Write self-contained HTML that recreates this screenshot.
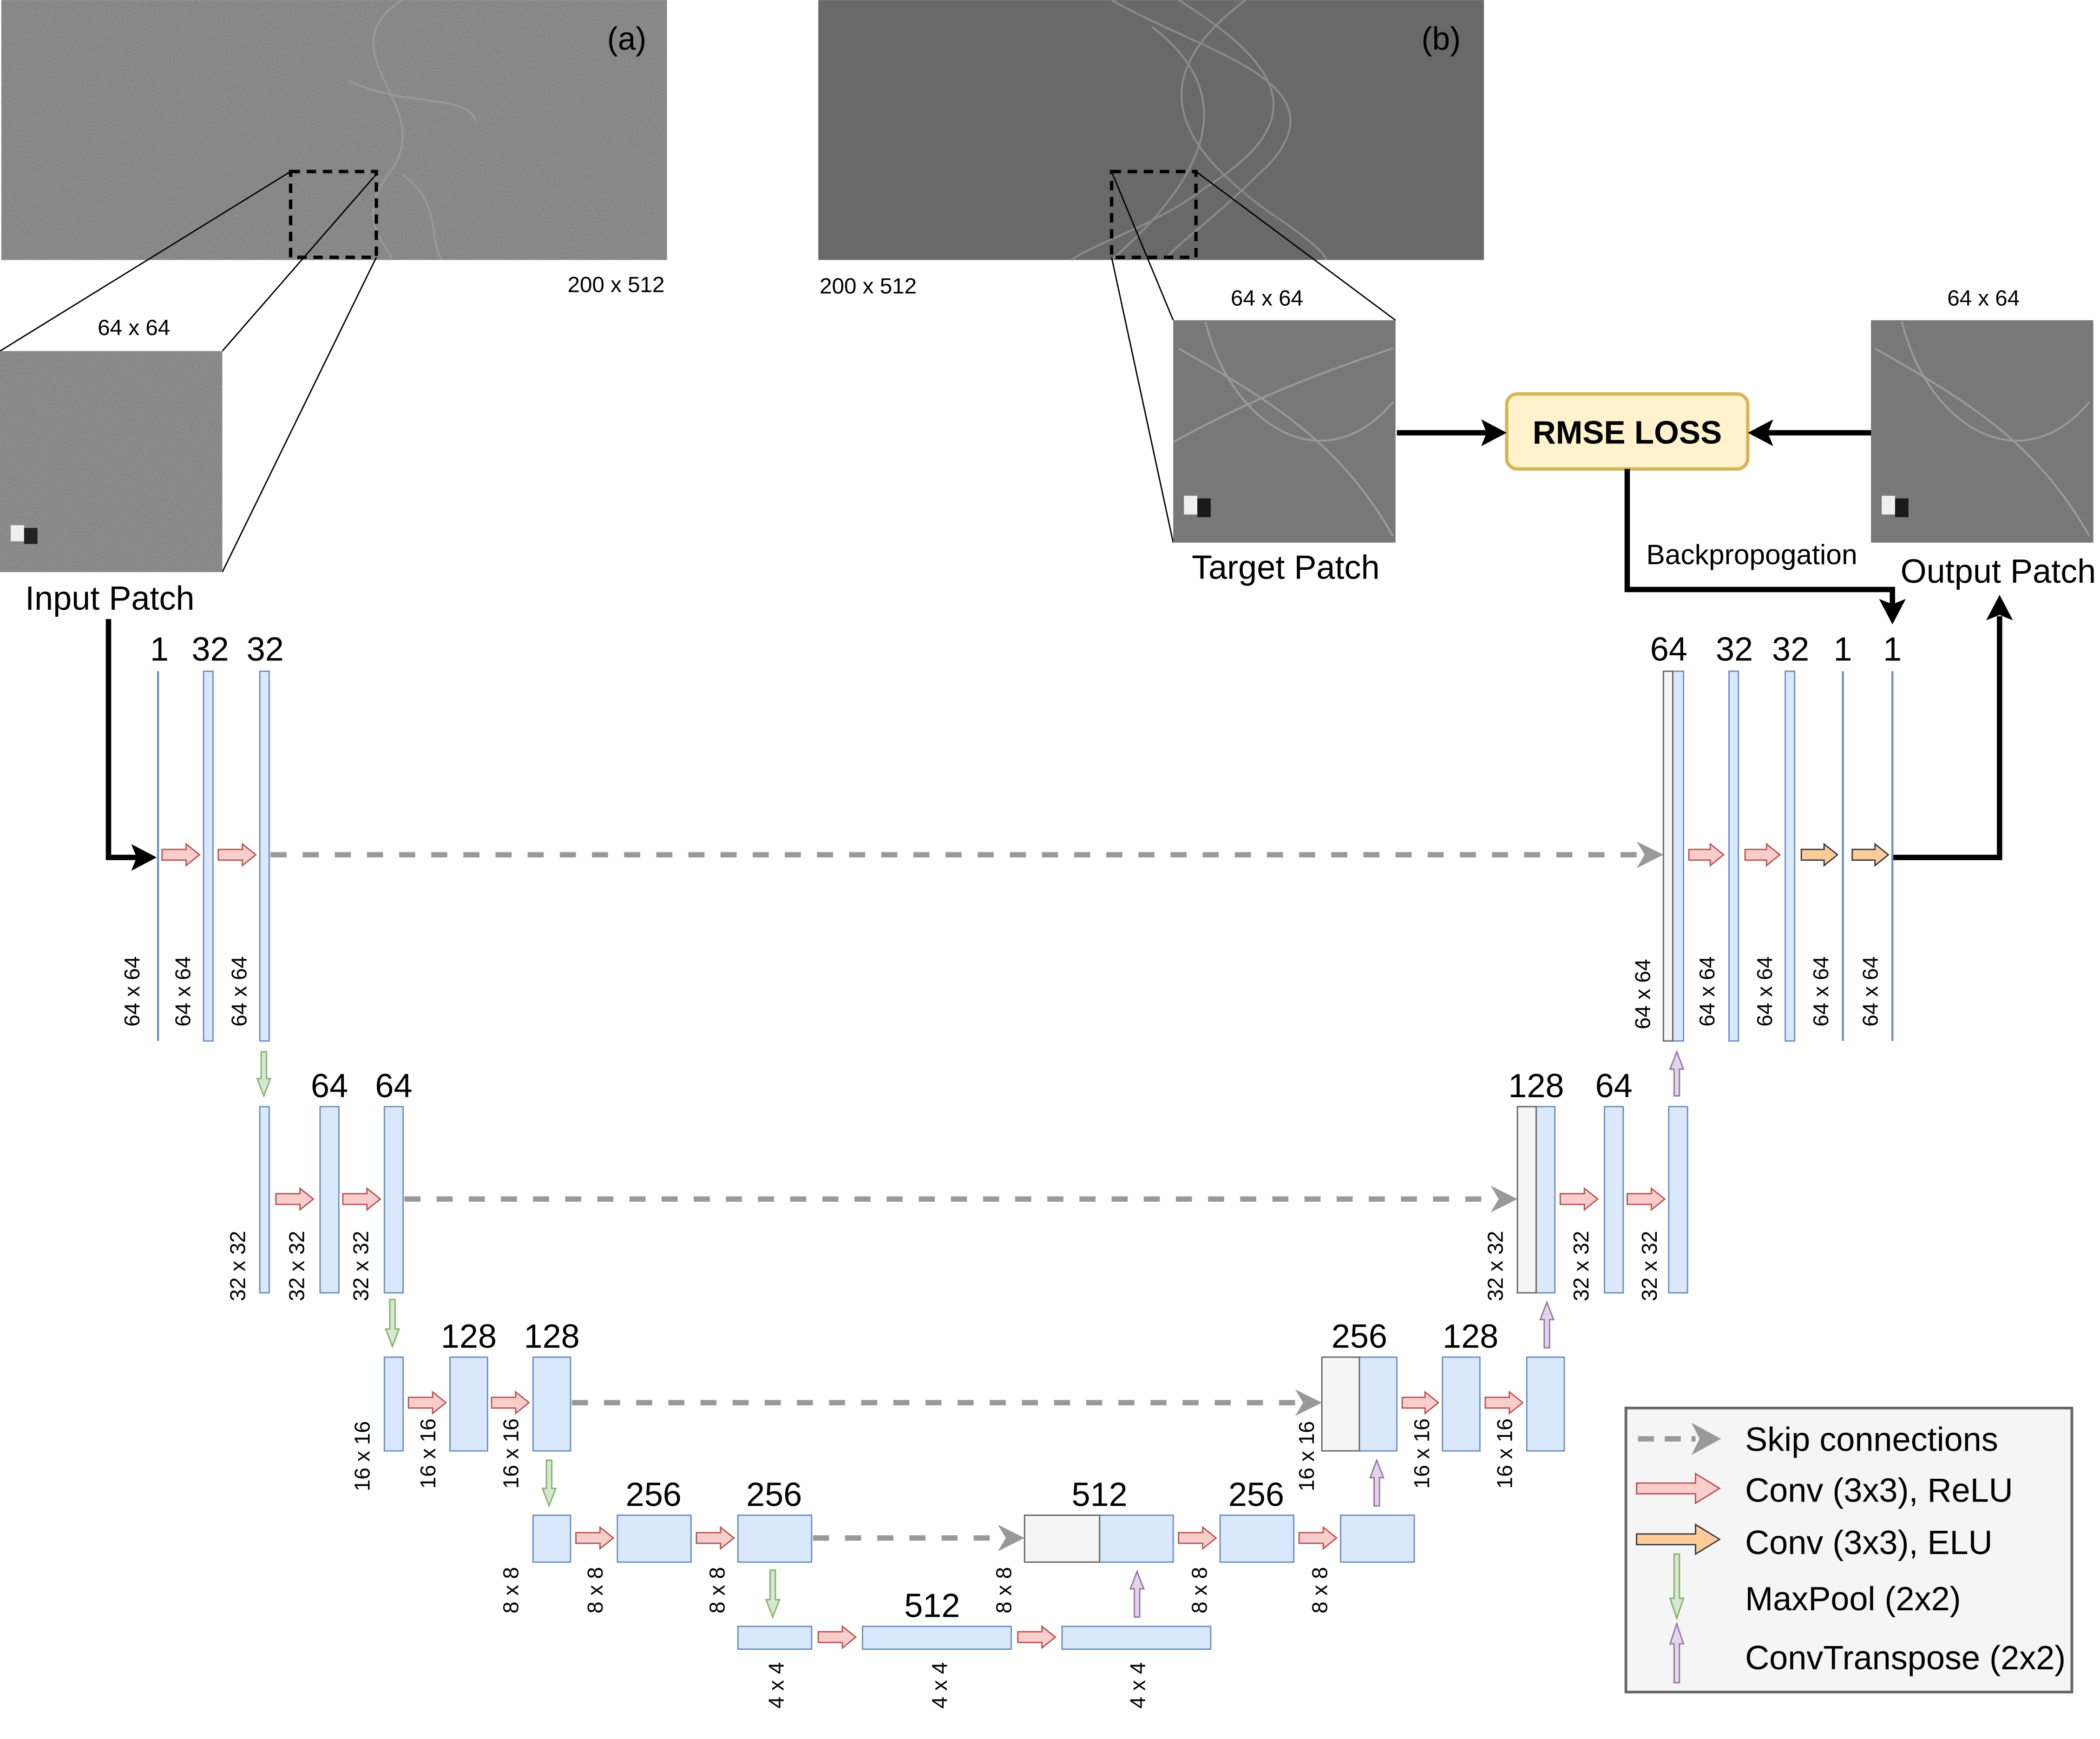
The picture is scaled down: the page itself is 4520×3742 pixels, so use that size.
<!DOCTYPE html>
<html><head><meta charset="utf-8"><style>
html,body{margin:0;padding:0;background:#fff;}
svg{display:block;}
text{font-family:"Liberation Sans",sans-serif;fill:#000;}
</style></head><body>
<svg width="4520" height="3742" viewBox="0 0 1568 1298" xmlns="http://www.w3.org/2000/svg">
<defs>
<filter id="nz" x="0" y="0" width="100%" height="100%">
<feTurbulence type="fractalNoise" baseFrequency="0.9" numOctaves="1" seed="3"/>
<feColorMatrix type="matrix" values="0 0 0 0 0.5  0 0 0 0 0.5  0 0 0 0 0.5  0 0 0 0.35 0"/>
</filter>
</defs>
<rect width="1568" height="1298" fill="#fff"/>
<rect x="1214" y="1051" width="333" height="212" fill="#f5f5f5" stroke="#666" stroke-width="2"/>

<!-- image (a) -->
<rect x="1" y="0" width="497" height="194" fill="#7d7d7d"/>
<rect x="1" y="0" width="497" height="194" filter="url(#nz)"/>
<g fill="none" stroke="#a0a0a0" stroke-width="1.5" opacity="0.7">
<path d="M300,0 C240,40 330,80 290,130 C260,170 300,190 290,194"/>
<path d="M260,60 C300,80 350,70 355,90"/>
<path d="M300,130 C330,150 320,180 330,194"/>
</g>
<text x="468" y="37" font-size="24" text-anchor="middle">(a)</text>
<text x="460" y="218" font-size="16.5" text-anchor="middle">200 x 512</text>
<rect x="217" y="128" width="64" height="64" fill="none" stroke="#000" stroke-width="2.5" stroke-dasharray="7 5"/>
<g stroke="#000" stroke-width="1">
<line x1="217" y1="128" x2="0" y2="262"/>
<line x1="281" y1="130" x2="166" y2="262"/>
<line x1="281" y1="192" x2="166" y2="427"/>
</g>
<text x="100" y="250" font-size="16.5" text-anchor="middle">64 x 64</text>
<rect x="0" y="262" width="166" height="165" fill="#7f7f7f"/>
<rect x="0" y="262" width="166" height="165" filter="url(#nz)"/>
<rect x="8" y="392" width="10" height="12" fill="#eee"/>
<rect x="18" y="394" width="10" height="12" fill="#222"/>
<text x="82" y="455" font-size="25" text-anchor="middle">Input Patch</text>

<!-- image (b) -->
<rect x="611" y="0" width="497" height="194" fill="#696969"/>
<g fill="none" stroke="#8a8a8a" stroke-width="1.5">
<path d="M830,0 C900,40 1000,60 950,120 C900,170 880,180 870,194"/>
<path d="M880,0 C960,50 980,90 900,140 C860,170 820,180 800,194"/>
<path d="M930,0 C850,60 880,110 950,160 C980,180 990,190 990,194"/>
<path d="M860,20 C940,80 880,150 830,194"/>
</g>
<text x="1076" y="37" font-size="24" text-anchor="middle">(b)</text>
<text x="612" y="219" font-size="16.5">200 x 512</text>
<rect x="830" y="128" width="63" height="64" fill="none" stroke="#000" stroke-width="2.5" stroke-dasharray="7 5"/>
<g stroke="#000" stroke-width="1">
<line x1="830" y1="128" x2="876" y2="239"/>
<line x1="830" y1="192" x2="876" y2="405"/>
<line x1="893" y1="128" x2="1042" y2="239"/>
</g>
<text x="946" y="228" font-size="16.5" text-anchor="middle">64 x 64</text>
<rect x="876" y="239" width="166" height="166" fill="#787878"/>
<g fill="none" stroke="#999" stroke-width="1.5"><path d="M880,260 C950,300 1000,330 1040,400"/><path d="M900,240 C920,320 990,360 1040,300"/><path d="M876,330 C930,300 980,280 1040,260"/></g>
<rect x="884" y="370" width="10" height="14" fill="#f0f0f0"/><rect x="894" y="372" width="10" height="14" fill="#1a1a1a"/>
<text x="960" y="432" font-size="25" text-anchor="middle">Target Patch</text>

<text x="1481" y="228" font-size="16.5" text-anchor="middle">64 x 64</text>
<rect x="1397" y="239" width="166" height="166" fill="#787878"/>
<g fill="none" stroke="#999" stroke-width="1.5"><path d="M1400,260 C1470,300 1520,330 1560,400"/><path d="M1420,240 C1440,320 1510,360 1560,300"/></g>
<rect x="1405" y="370" width="10" height="14" fill="#f0f0f0"/><rect x="1415" y="372" width="10" height="14" fill="#1a1a1a"/>
<text x="1492" y="435" font-size="25" text-anchor="middle">Output Patch</text>

<!-- RMSE -->
<rect x="1125" y="294" width="180" height="56" rx="8" fill="#fff2cc" stroke="#d6b656" stroke-width="2.5"/>
<text x="1215" y="331" font-size="24" font-weight="bold" text-anchor="middle">RMSE LOSS</text>
<g stroke="#000" stroke-width="4" fill="none">
<line x1="1043" y1="323" x2="1110" y2="323"/>
<line x1="1397" y1="323" x2="1320" y2="323"/>
<polyline points="1215,350 1215,440 1413,440 1413,452"/>
<polyline points="1413,640 1493,640 1493,460"/>
<polyline points="81,462 81,640 104,640"/>
</g>
<g fill="#000">
<polygon points="1125,323 1106,313 1110,323 1106,333"/>
<polygon points="1305,323 1324,313 1320,323 1324,333"/>
<polygon points="1413,466 1403,447 1413,451 1423,447"/>
<polygon points="1493,444 1483,463 1493,459 1503,463"/>
<polygon points="117,640 98,630 102,640 98,650"/>
</g>
<text x="1308" y="421" font-size="21" text-anchor="middle">Backpropogation</text>

<!-- skip connections -->
<g stroke="#999" stroke-width="4" stroke-dasharray="12 12">
<line x1="202" y1="638" x2="1225" y2="638"/>
<line x1="302" y1="895" x2="1117" y2="895"/>
<line x1="427" y1="1047" x2="970" y2="1047"/>
<line x1="607" y1="1148" x2="750" y2="1148"/>
</g>
<g fill="#999">
<polygon points="1242,638 1222,628 1228,638 1222,648"/>
<polygon points="1133,895 1113,885 1119,895 1113,905"/>
<polygon points="987,1047 967,1037 973,1047 967,1057"/>
<polygon points="765,1148 745,1138 751,1148 745,1158"/>
</g>

<!-- blue bars -->
<g fill="#dae8fc" stroke="#6c8ebf" stroke-width="1">
<rect x="152" y="501" width="7" height="276"/>
<rect x="194" y="501" width="7" height="276"/>
<rect x="1249" y="501" width="8" height="276"/>
<rect x="1291" y="501" width="7" height="276"/>
<rect x="1333" y="501" width="7" height="276"/>

<rect x="194" y="826" width="7" height="139"/>
<rect x="239" y="826" width="14" height="139"/>
<rect x="287" y="826" width="14" height="139"/>
<rect x="1147" y="826" width="14" height="139"/>
<rect x="1198" y="826" width="14" height="139"/>
<rect x="1246" y="826" width="14" height="139"/>

<rect x="287" y="1013" width="14" height="70"/>
<rect x="336" y="1013" width="28" height="70"/>
<rect x="398" y="1013" width="28" height="70"/>
<rect x="1015" y="1013" width="28" height="70"/>
<rect x="1077" y="1013" width="28" height="70"/>
<rect x="1140" y="1013" width="28" height="70"/>

<rect x="398" y="1131" width="28" height="35"/>
<rect x="461" y="1131" width="55" height="35"/>
<rect x="551" y="1131" width="55" height="35"/>
<rect x="821" y="1131" width="55" height="35"/>
<rect x="911" y="1131" width="55" height="35"/>
<rect x="1001" y="1131" width="55" height="35"/>

<rect x="551" y="1214" width="55" height="17"/>
<rect x="644" y="1214" width="111" height="17"/>
<rect x="793" y="1214" width="111" height="17"/>
</g>
<g stroke="#6c8ebf" stroke-width="1.5">
<line x1="118" y1="501" x2="118" y2="777"/>
<line x1="1376" y1="501" x2="1376" y2="777"/>
<line x1="1413" y1="501" x2="1413" y2="777"/>
</g>
<!-- gray concat -->
<g fill="#f5f5f5" stroke="#666" stroke-width="1">
<rect x="1242" y="501" width="7" height="276"/>
<rect x="1133" y="826" width="14" height="139"/>
<rect x="987" y="1013" width="28" height="70"/>
<rect x="765" y="1131" width="56" height="35"/>
</g>

<!-- red arrows -->
<g fill="#f8cecc" stroke="#b85450" stroke-width="1">
<polygon points="121,634 139,634 139,630 149,638 139,646 139,642 121,642"/>
<polygon points="163,634 181,634 181,630 191,638 181,646 181,642 163,642"/>
<polygon points="1261,634 1277,634 1277,630 1287,638 1277,646 1277,642 1261,642"/>
<polygon points="1303,634 1319,634 1319,630 1329,638 1319,646 1319,642 1303,642"/>

<polygon points="206,891 224,891 224,887 234,895 224,903 224,899 206,899"/>
<polygon points="256,891 274,891 274,887 284,895 274,903 274,899 256,899"/>
<polygon points="1165,891 1183,891 1183,887 1193,895 1183,903 1183,899 1165,899"/>
<polygon points="1215,891 1233,891 1233,887 1243,895 1233,903 1233,899 1215,899"/>

<polygon points="305,1043 323,1043 323,1039 333,1047 323,1055 323,1051 305,1051"/>
<polygon points="367,1043 385,1043 385,1039 395,1047 385,1055 385,1051 367,1051"/>
<polygon points="1047,1043 1064,1043 1064,1039 1074,1047 1064,1055 1064,1051 1047,1051"/>
<polygon points="1109,1043 1127,1043 1127,1039 1137,1047 1127,1055 1127,1051 1109,1051"/>

<polygon points="430,1144 448,1144 448,1140 458,1148 448,1156 448,1152 430,1152"/>
<polygon points="520,1144 538,1144 538,1140 548,1148 538,1156 538,1152 520,1152"/>
<polygon points="880,1144 898,1144 898,1140 908,1148 898,1156 898,1152 880,1152"/>
<polygon points="970,1144 988,1144 988,1140 998,1148 988,1156 988,1152 970,1152"/>

<polygon points="611,1218 629,1218 629,1214 639,1222 629,1230 629,1226 611,1226"/>
<polygon points="760,1218 778,1218 778,1214 788,1222 778,1230 778,1226 760,1226"/>

<polygon points="1222,1107 1266,1107 1266,1100 1284,1111 1266,1122 1266,1115 1222,1115"/>
</g>
<g fill="#ffcc99" stroke="#36393d" stroke-width="1">
<polygon points="1345,634 1362,634 1362,630 1372,638 1362,646 1362,642 1345,642"/>
<polygon points="1383,634 1400,634 1400,630 1410,638 1400,646 1400,642 1383,642"/>
<polygon points="1222,1145 1266,1145 1266,1138 1284,1149 1266,1160 1266,1153 1222,1153"/>
</g>
<!-- green down -->
<g fill="#d5e8d4" stroke="#82b366" stroke-width="1">
<polygon points="195,785 199,785 199,805 202,805 197,818 192,805 195,805"/>
<polygon points="291,970 295,970 295,992 298,992 293,1005 288,992 291,992"/>
<polygon points="408,1090 412,1090 412,1111 415,1111 410,1124 405,1111 408,1111"/>
<polygon points="575,1172 579,1172 579,1194 582,1194 577,1207 572,1194 575,1194"/>
<polygon points="1250,1160 1254,1160 1254,1193 1257,1193 1252,1208 1247,1193 1250,1193"/>
</g>
<g fill="#e1d5e7" stroke="#9673a6" stroke-width="1">
<polygon points="1250,818 1254,818 1254,798 1257,798 1252,785 1247,798 1250,798"/>
<polygon points="1153,1006 1157,1006 1157,985 1160,985 1155,972 1150,985 1153,985"/>
<polygon points="1026,1124 1030,1124 1030,1103 1033,1103 1028,1090 1023,1103 1026,1103"/>
<polygon points="847,1207 851,1207 851,1186 854,1186 849,1173 844,1186 847,1186"/>
<polygon points="1250,1256 1254,1256 1254,1227 1257,1227 1252,1212 1247,1227 1250,1227"/>
</g>

<!-- channel labels -->
<g font-size="25" text-anchor="middle">
<text x="119" y="493">1</text><text x="157" y="493">32</text><text x="198" y="493">32</text>
<text x="1246" y="493">64</text><text x="1295" y="493">32</text><text x="1337" y="493">32</text><text x="1376" y="493">1</text><text x="1413" y="493">1</text>
<text x="246" y="819">64</text><text x="294" y="819">64</text>
<text x="1147" y="819">128</text><text x="1205" y="819">64</text>
<text x="350" y="1006">128</text><text x="412" y="1006">128</text>
<text x="1015" y="1006">256</text><text x="1098" y="1006">128</text>
<text x="488" y="1124">256</text><text x="578" y="1124">256</text>
<text x="821" y="1124">512</text><text x="938" y="1124">256</text>
<text x="696" y="1207">512</text>
</g>
<!-- size labels -->
<g font-size="16" text-anchor="middle">
<text transform="translate(104,740) rotate(-90)">64 x 64</text>
<text transform="translate(142,740) rotate(-90)">64 x 64</text>
<text transform="translate(184,740) rotate(-90)">64 x 64</text>
<text transform="translate(1232,742) rotate(-90)">64 x 64</text>
<text transform="translate(1280,740) rotate(-90)">64 x 64</text>
<text transform="translate(1323,740) rotate(-90)">64 x 64</text>
<text transform="translate(1365,740) rotate(-90)">64 x 64</text>
<text transform="translate(1402,740) rotate(-90)">64 x 64</text>

<text transform="translate(183,945) rotate(-90)">32 x 32</text>
<text transform="translate(227,945) rotate(-90)">32 x 32</text>
<text transform="translate(275,945) rotate(-90)">32 x 32</text>
<text transform="translate(1122,945) rotate(-90)">32 x 32</text>
<text transform="translate(1186,945) rotate(-90)">32 x 32</text>
<text transform="translate(1237,945) rotate(-90)">32 x 32</text>

<text transform="translate(276,1087) rotate(-90)">16 x 16</text>
<text transform="translate(325,1085) rotate(-90)">16 x 16</text>
<text transform="translate(387,1085) rotate(-90)">16 x 16</text>
<text transform="translate(981,1087) rotate(-90)">16 x 16</text>
<text transform="translate(1067,1085) rotate(-90)">16 x 16</text>
<text transform="translate(1129,1085) rotate(-90)">16 x 16</text>

<text transform="translate(387,1187) rotate(-90)">8 x 8</text>
<text transform="translate(450,1187) rotate(-90)">8 x 8</text>
<text transform="translate(541,1187) rotate(-90)">8 x 8</text>
<text transform="translate(755,1187) rotate(-90)">8 x 8</text>
<text transform="translate(901,1187) rotate(-90)">8 x 8</text>
<text transform="translate(991,1187) rotate(-90)">8 x 8</text>

<text transform="translate(585,1258) rotate(-90)">4 x 4</text>
<text transform="translate(707,1258) rotate(-90)">4 x 4</text>
<text transform="translate(855,1258) rotate(-90)">4 x 4</text>
</g>

<!-- legend -->
<line x1="1223" y1="1074" x2="1266" y2="1074" stroke="#999" stroke-width="4" stroke-dasharray="12 8"/>
<polygon points="1285,1074 1263,1062 1269,1074 1263,1086" fill="#999"/>
<g font-size="25">
<text x="1303" y="1083">Skip connections</text>
<text x="1303" y="1121">Conv (3x3), ReLU</text>
<text x="1303" y="1160">Conv (3x3), ELU</text>
<text x="1303" y="1202">MaxPool (2x2)</text>
<text x="1303" y="1246">ConvTranspose (2x2)</text>
</g>
</svg>
</body></html>
